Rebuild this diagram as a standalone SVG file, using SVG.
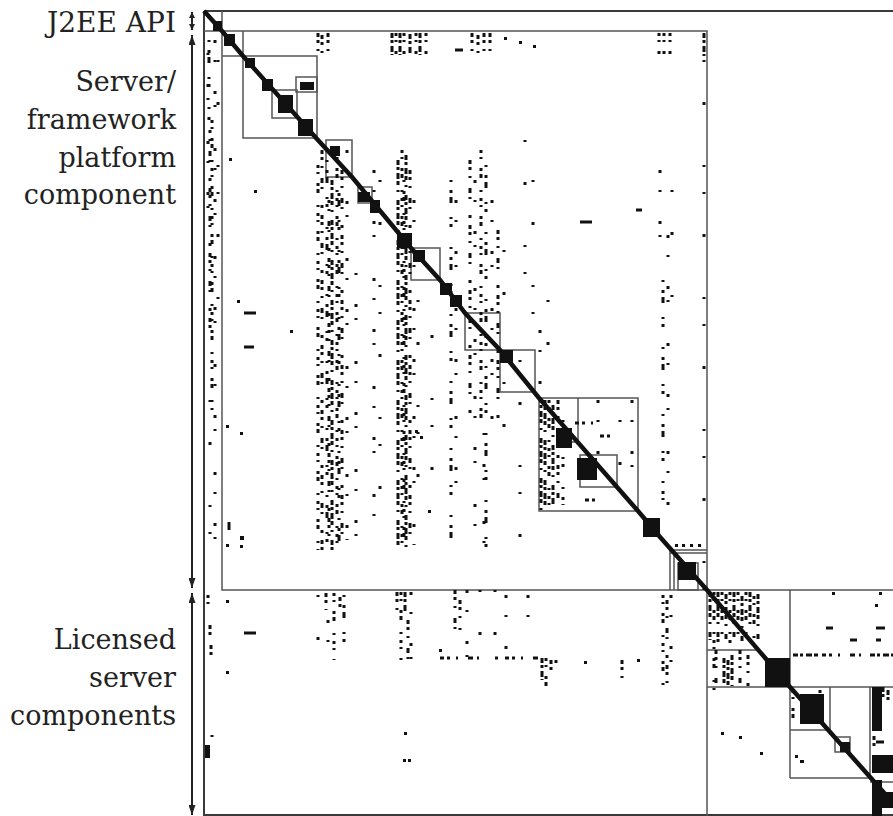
<svg xmlns="http://www.w3.org/2000/svg" width="893" height="816" viewBox="0 0 893 816">
<defs>
<style>
text.lbl{font-family:"DejaVu Serif",serif;font-size:27px;fill:#222;text-anchor:end}
.frm{stroke:#3a3a3a;stroke-width:2;fill:none}
.box{stroke:#555;stroke-width:1.5;fill:none}
.arr{stroke:#222;stroke-width:2;fill:none}
.k{stroke:#111;fill:none;stroke-width:3}
.h{stroke:#111;fill:none;stroke-width:3}
.a{stroke-dasharray:3 4 2 9 3 3 4 12 2 6}
.b{stroke-dasharray:2 8 3 4 6 14 2 5 3 20}
.c{stroke-dasharray:4 3 3 6 2 10 5 4 2 16 3 7}
.s{stroke-dasharray:3 17 2 29 3 11 2 41}
.e{stroke-dasharray:5 2 3 3 6 2 4 5 2 8}
.t{stroke-dasharray:2 40 3 60 2 25}
.o{stroke-dashoffset:7}
.blk{fill:#111}
.dot{fill:#111}
</style>
<marker id="h2" viewBox="0 0 10 7" refX="10" refY="3.5" markerWidth="10" markerHeight="7" markerUnits="userSpaceOnUse" orient="auto-start-reverse"><path d="M0 0L10 3.5L0 7z" fill="#222"/></marker>
<marker id="h3" viewBox="0 0 6 6" refX="6" refY="3" markerWidth="6" markerHeight="6" markerUnits="userSpaceOnUse" orient="auto-start-reverse"><path d="M0 0L6 3L0 6z" fill="#222"/></marker>
</defs>
<rect width="893" height="816" fill="#fff"/>

<g id="labels">
<text class="lbl" x="176" y="32" style="font-size:28px">J2EE API</text>
<text class="lbl" x="176" y="91">Server/</text>
<text class="lbl" x="176" y="129">framework</text>
<text class="lbl" x="176" y="167">platform</text>
<text class="lbl" x="176" y="204">component</text>
<text class="lbl" x="176" y="649">Licensed</text>
<text class="lbl" x="176" y="687">server</text>
<text class="lbl" x="176" y="725">components</text>
</g>

<g id="arrows">
<path class="arr" d="M192 12V30" marker-start="url(#h3)" marker-end="url(#h3)"/>
<path class="arr" d="M192 35V588" marker-start="url(#h2)" marker-end="url(#h2)"/>
<path class="arr" d="M192 593V815" marker-start="url(#h2)" marker-end="url(#h2)"/>
</g>

<g id="frame">
<path class="frm" d="M204 11H893M204 11V816M204 815H893"/>
<path class="box" d="M222 11V590H893M204 31H707V816"/>
<path class="box" d="M243 31V56M222 56H317V138H243V56"/>
<rect class="box" x="272" y="90" width="25" height="28"/>
<rect class="box" x="296" y="77" width="21" height="15"/>
<rect class="box" x="326" y="140" width="26" height="37"/>
<rect class="box" x="358" y="187" width="14" height="16"/>
<rect class="box" x="411" y="248" width="29" height="32"/>
<rect class="box" x="465" y="313" width="35" height="37"/>
<rect class="box" x="500" y="350" width="35" height="42"/>
<rect class="box" x="539" y="398" width="99" height="113"/>
<path class="box" d="M578 398V442H563"/>
<rect class="box" x="580" y="455" width="37" height="32"/>
<path class="box" d="M670 550H707M670 553H707M670 550V590M674 553V590"/>
<rect class="box" x="678" y="563" width="20" height="27"/>
<path class="box" d="M790 590V778M707 687H893M707 650H760M790 730H830V687M790 778H870V687M870 782H893"/>
<rect class="box" x="835" y="737" width="15" height="15"/>
</g>

<g id="diagonal">
<path d="M204 11L222 31L243 56L317 139L352 177L411 248L440 280L465 313L500 350L539 398L638 511L660 537L707 590L790 687L870 777L893 803" stroke="#111" stroke-width="4.5" fill="none"/>
<rect class="blk" x="213" y="21" width="9" height="10"/>
<rect class="blk" x="224" y="34" width="11" height="12"/>
<rect class="blk" x="245" y="58" width="10" height="10"/>
<rect class="blk" x="262" y="79" width="11" height="12"/>
<rect class="blk" x="278" y="95" width="15" height="18"/>
<rect class="blk" x="298" y="119" width="15" height="17"/>
<rect class="blk" x="300" y="82" width="14" height="8"/>
<rect class="blk" x="330" y="146" width="10" height="10"/>
<rect class="blk" x="358" y="192" width="12" height="10"/>
<rect class="blk" x="370" y="200" width="10" height="13"/>
<rect class="blk" x="397" y="233" width="15" height="15"/>
<rect class="blk" x="413" y="250" width="12" height="12"/>
<rect class="blk" x="440" y="283" width="12" height="12"/>
<rect class="blk" x="450" y="295" width="12" height="12"/>
<rect class="blk" x="500" y="350" width="13" height="13"/>
<rect class="blk" x="556" y="428" width="16" height="20"/>
<rect class="blk" x="577" y="458" width="20" height="22"/>
<rect class="blk" x="643" y="518" width="17" height="19"/>
<rect class="blk" x="678" y="562" width="18" height="18"/>
<rect class="blk" x="765" y="658" width="25" height="29"/>
<rect class="blk" x="800" y="694" width="24" height="30"/>
<rect class="blk" x="840" y="742" width="10" height="10"/>
<rect class="blk" x="872" y="687" width="10" height="44"/>
<rect class="blk" x="872" y="755" width="21" height="18"/>
<rect class="blk" x="872" y="780" width="10" height="36"/>
<rect class="blk" x="882" y="792" width="11" height="16"/>
</g>

<g id="marks">
<path class="k b" d="M209 40V120"/>
<path class="k a" d="M212 120V410"/>
<path class="k s" d="M215 40V560"/>
<path class="k t" d="M210 400V560"/>
<path class="k t" d="M218 60V300"/>
<path class="k c o" d="M210 130V330"/>
<path class="k s o" d="M208 40V240"/>
<path class="k c" d="M318 33V55M322 35V55M328 33V55"/>
<path class="k e" d="M392 33V55M400 33V55M410 34V55M420 33V55"/>
<path class="k a" d="M396 33V55M404 33V55M416 33V55M426 33V55"/>
<path class="h" d="M455 50H463"/>
<path class="k c" d="M472 33V55M478 35V55M484 33V55M490 33V55"/>
<path class="k a" d="M659 33V56M664 33V56M670 33V56"/>
<path class="k e" d="M704 33V56"/>
<rect class="dot" x="504" y="37" width="3" height="3"/><rect class="dot" x="519" y="41" width="3" height="3"/><rect class="dot" x="533" y="45" width="3" height="3"/>
<path class="k a" d="M318 165V550"/>
<path class="k c" d="M322 150V550"/>
<path class="k b" d="M327 160V545"/>
<path class="k e" d="M332 180V550"/>
<path class="k a" d="M337 150V545"/>
<path class="k c" d="M342 170V548"/>
<path class="k s" d="M347 150V540"/>
<path class="k c o" d="M329 200V540"/>
<path class="k b o" d="M339 190V545"/>
<path class="k s" d="M374 170V545"/>
<path class="k t" d="M380 180V540"/>
<path class="k s o" d="M356 260V540"/>
<path class="k e" d="M398 160V550"/>
<path class="k a" d="M402 150V550"/>
<path class="k e" d="M406 155V548"/>
<path class="k c" d="M410 170V545"/>
<path class="k s" d="M414 200V545"/>
<path class="k t" d="M418 300V520"/>
<path class="k a o" d="M404 180V540"/>
<path class="k b" d="M451 180V550"/>
<path class="k s" d="M456 200V520"/>
<path class="k c" d="M470 160V420"/>
<path class="k s" d="M475 180V540"/>
<path class="k a" d="M481 150V430"/>
<path class="k b" d="M486 165V550"/>
<path class="k s" d="M492 200V430"/>
<path class="k c" d="M498 230V420"/>
<path class="k t" d="M504 250V430"/>
<path class="k t" d="M525 140V300"/>
<path class="k t" d="M533 180V320"/>
<path class="k t" d="M520 360V540"/>
<path class="k s o" d="M484 420V550"/>
<path class="k t o" d="M432 300V500"/>
<path class="k e" d="M541 398V510M545 400V510M553 405V505"/>
<path class="k a" d="M549 400V510"/>
<path class="k c" d="M558 400V500"/>
<path class="k b" d="M563 420V505"/>
<path class="k s" d="M540 330V395"/>
<path class="k t" d="M548 300V390"/>
<path class="h c" d="M575 423H602M600 436H615M585 500H600"/>
<path class="k s" d="M598 400V470"/>
<path class="k t" d="M620 420V500"/>
<path class="k s" d="M632 400V470"/>
<path class="k s" d="M660 170V260"/>
<path class="k b" d="M663 280V500"/>
<path class="k s" d="M668 235V510"/>
<path class="k t" d="M672 190V300"/>
<path class="k t" d="M704 60V590"/>
<path class="h" d="M580 222H592M636 210H642"/>
<rect class="dot" x="229" y="158" width="3" height="3"/>
<rect class="dot" x="254" y="190" width="3" height="3"/>
<path class="h" d="M244 313H256M244 347H254"/>
<rect class="dot" x="237" y="300" width="3" height="3"/>
<rect class="dot" x="226" y="425" width="3" height="3"/>
<rect class="dot" x="240" y="432" width="3" height="3"/>
<path class="k" d="M229 522V530"/>
<rect class="dot" x="240" y="536" width="4" height="4"/>
<rect class="dot" x="226" y="544" width="3" height="3"/>
<rect class="dot" x="240" y="545" width="3" height="3"/>
<rect class="dot" x="290" y="330" width="3" height="3"/>
<rect class="dot" x="428" y="510" width="3" height="3"/>
<rect class="dot" x="415" y="430" width="3" height="3"/><rect class="dot" x="420" y="436" width="3" height="3"/>
<rect class="dot" x="675" y="544" width="3" height="3"/><rect class="dot" x="682" y="544" width="3" height="3"/><rect class="dot" x="690" y="544" width="3" height="3"/><rect class="dot" x="698" y="544" width="3" height="3"/>
<path class="k a" d="M208 595V612"/>
<path class="k c" d="M210 625V640M211 645V655"/>
<path class="k t" d="M212 735V775"/>
<rect class="blk" x="205" y="745" width="5" height="13"/>
<rect class="dot" x="226" y="600" width="3" height="3"/>
<rect class="dot" x="226" y="671" width="3" height="3"/>
<path class="h" d="M244 633H256" stroke-width="4"/>
<path class="k t" d="M318 595V660"/>
<path class="k c" d="M326 593V610M340 597V610"/>
<path class="k s" d="M328 620V650"/>
<path class="k a" d="M334 593V660"/>
<path class="k b" d="M344 595V660"/>
<path class="k c" d="M397 592V615M408 620V660"/>
<path class="k a" d="M401 592V660"/>
<path class="k e" d="M405 592V612"/>
<path class="k s" d="M411 592V665"/>
<rect class="dot" x="404" y="732" width="3" height="3"/>
<rect class="dot" x="403" y="759" width="3" height="3"/><rect class="dot" x="408" y="759" width="3" height="3"/>
<rect class="dot" x="439" y="649" width="3" height="3"/>
<path class="k c" d="M455 590V640M460 600V630"/>
<path class="k s" d="M467 590V690"/>
<path class="k t" d="M480 590V640M495 590V645"/>
<path class="k s" d="M506 595V660M528 595V640"/>
<path class="h c" d="M440 658H540"/>
<path class="k e" d="M542 658V680"/>
<path class="k a" d="M546 658V688"/>
<path class="k c" d="M551 660V675"/>
<path class="k s" d="M556 660V680"/>
<rect class="dot" x="584" y="661" width="3" height="3"/>
<path class="k c" d="M622 660V680"/>
<rect class="dot" x="637" y="659" width="3" height="3"/>
<path class="k a" d="M663 595V690"/>
<path class="k c" d="M667 600V685"/>
<path class="k s" d="M671 595V690"/>
<path class="k e" d="M710 592V640M718 592V645M726 594V640M734 592V638M742 596V642M750 592V630M758 594V640"/>
<path class="k a" d="M714 592V690M722 592V640M730 592V645M738 592V640M746 592V635M754 596V640"/>
<path class="k e" d="M724 658V686M728 660V686M732 655V686"/>
<path class="k c" d="M716 650V686M740 650V686M748 655V686"/>
<path class="h e" d="M793 655H822M870 655H893"/>
<path class="h c" d="M822 655H868"/>
<path class="h" d="M826 628H833M876 628H885M850 640H857M876 640H881"/>
<rect class="dot" x="832" y="592" width="3" height="3"/><rect class="dot" x="879" y="592" width="3" height="3"/><rect class="dot" x="875" y="604" width="3" height="3"/>
<rect class="dot" x="721" y="732" width="3" height="3"/><rect class="dot" x="739" y="736" width="3" height="3"/><rect class="dot" x="760" y="752" width="3" height="3"/>
<rect class="dot" x="795" y="755" width="3" height="3"/><rect class="dot" x="800" y="760" width="4" height="3"/>
<path class="k a" d="M793 690V728M820 690V728"/>
<path class="k e" d="M883 687V700M888 690V700"/>
<path class="k c" d="M874 736V748"/>
<path class="h" d="M876 742H884"/>
</g>
</svg>
